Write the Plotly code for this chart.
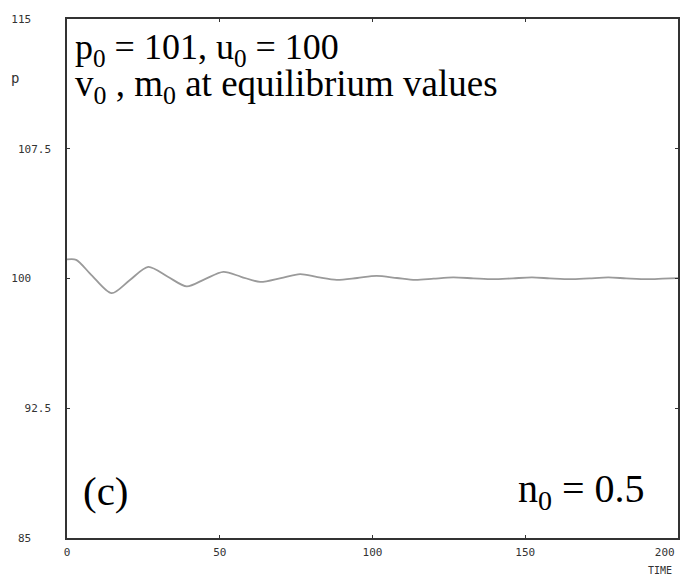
import plotly.graph_objects as go

# Data
time = [0, 3, 8, 14.6, 20.5, 26.6, 33, 39.2, 45, 51.2, 57, 63.2, 70, 76.3, 82, 88.3,
        95, 101.3, 108, 114, 120, 126.4, 133, 139.5, 146, 152.2, 158, 164.8, 171,
        177.2, 183, 189.9, 195, 200]
price = [101.1, 101.08, 100.2, 99.15, 99.9, 100.67, 100.1, 99.54, 99.95, 100.38,
         100.1, 99.80, 100.02, 100.25, 100.08, 99.92, 100.03, 100.15, 100.03, 99.92,
         99.99, 100.06, 100.01, 99.96, 100.01, 100.06, 100.01, 99.96, 100.01, 100.06,
         100.01, 99.96, 99.99, 100.02]
x_ticks = [0, 50, 100, 150, 200]
x_tick_text = ["0", "50", "100", "150", "200\u00a0\u00a0\u00a0\u00a0"]
y_ticks = [85, 92.5, 100, 107.5, 115]
y_tick_text = ["85\u00a0\u00a0\u00a0", "92.5", "100\u00a0\u00a0\u00a0", "107.5", "115\u00a0\u00a0\u00a0"]

fig = go.Figure()
fig.add_trace(go.Scatter(x=time, y=price, mode="lines",
                         line=dict(color="#9a9a9a", width=1.8, shape="spline", smoothing=0.8),
                         hoverinfo="skip", showlegend=False))

tick_font = dict(family="DejaVu Sans Mono", size=11, color="#333333")
fig.update_layout(
    width=680, height=576,
    margin=dict(l=67, r=2, t=19, b=38),
    paper_bgcolor="white", plot_bgcolor="white",
    xaxis=dict(range=[0, 200], tickvals=x_ticks, ticktext=x_tick_text, ticks="inside",
               ticklen=3, tickcolor="#333", showline=True, linecolor="#333", linewidth=1.5,
               mirror="ticks", showgrid=False, zeroline=False, automargin=False,
               tickfont=tick_font, ticklabelstandoff=3, ticklabeloverflow="allow"),
    yaxis=dict(range=[85, 115], tickvals=y_ticks, ticktext=y_tick_text,
               ticks="inside", ticklen=3, tickcolor="#333", showline=True,
               linecolor="#333", linewidth=1.5, mirror="ticks", showgrid=False,
               zeroline=False, automargin=False, tickfont=tick_font, ticklabelstandoff=12,
               ticklabeloverflow="allow"),
)

top_font = dict(family="Liberation Serif", size=37, color="black")
big_font = dict(family="Liberation Serif", size=40, color="black")
fig.add_annotation(xref="paper", yref="paper", x=(73 - 67) / 611, y=1 - (50 - 19) / 519,
                   xanchor="left", yanchor="middle",
                   text="p<sub>0</sub> = 101, u<sub>0</sub> = 100",
                   showarrow=False, font=dict(family="Liberation Serif", size=36, color="black"),
                   align="left")
fig.add_annotation(xref="paper", yref="paper", x=(73 - 67) / 611, y=1 - (87 - 19) / 519,
                   xanchor="left", yanchor="middle",
                   text="v<sub>0</sub> , m<sub>0</sub> at equilibrium values",
                   showarrow=False, font=top_font, align="left")
fig.add_annotation(xref="paper", yref="paper", x=(81 - 67) / 611, y=(538 - 491) / 519,
                   xanchor="left", yanchor="middle",
                   text="(c)", showarrow=False, font=dict(family="Liberation Serif", size=41, color="black"))
fig.add_annotation(xref="paper", yref="paper", x=(647 - 67) / 611, y=(538 - 491) / 519,
                   xanchor="right", yanchor="middle",
                   text="n<sub>0</sub> = 0.5", showarrow=False, font=big_font)
fig.add_annotation(xref="paper", yref="paper", x=(15 - 67) / 611, y=1 - (78 - 19) / 519,
                   xanchor="center", yanchor="middle",
                   text="p", showarrow=False,
                   font=dict(family="DejaVu Sans Mono", size=14, color="#333"))
fig.add_annotation(xref="paper", yref="paper", x=(660 - 67) / 611, y=(538 - 570) / 519,
                   xanchor="center", yanchor="middle",
                   text="TIME", showarrow=False,
                   font=dict(family="DejaVu Sans Mono", size=10, color="#333"))

fig.write_html("out.html", config={"displayModeBar": False},
               post_script="document.body.style.margin='0px';")
